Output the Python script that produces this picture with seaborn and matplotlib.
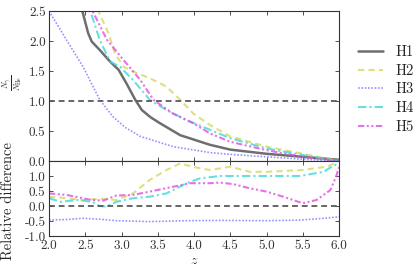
import numpy as np
import pandas as pd
import matplotlib
matplotlib.use('Agg')
import matplotlib.pyplot as plt
import seaborn as sns

# ratio N_gamma / N_He
z_h1 = [2.40, 2.46, 2.54, 2.59, 2.70, 2.84, 2.96, 3.07, 3.19, 3.28, 3.40, 3.53, 3.81, 4.22, 4.50, 5.00, 5.50, 6.00]
r_h1 = [2.75, 2.50, 2.13, 1.99, 1.85, 1.66, 1.52, 1.29, 1.02, 0.85, 0.73, 0.63, 0.43, 0.27, 0.19, 0.12, 0.07, 0.02]
z_h2 = [2.60, 2.68, 2.82, 2.91, 3.03, 3.16, 3.39, 3.62, 3.81, 3.99, 4.22, 4.50, 5.00, 5.50, 6.00]
r_h2 = [2.75, 2.50, 2.13, 1.79, 1.57, 1.49, 1.38, 1.24, 1.02, 0.79, 0.60, 0.41, 0.24, 0.12, 0.00]
z_h3 = [2.00, 2.24, 2.47, 2.70, 2.88, 3.05, 3.26, 3.71, 4.22, 4.50, 5.00, 5.50, 6.00]
r_h3 = [2.50, 2.02, 1.57, 1.02, 0.74, 0.56, 0.41, 0.24, 0.14, 0.11, 0.07, 0.03, 0.00]
z_h4 = [2.50, 2.57, 2.70, 2.84, 2.98, 3.16, 3.39, 3.62, 3.90, 4.22, 4.50, 5.00, 5.50, 6.00]
r_h4 = [2.75, 2.50, 2.02, 1.66, 1.57, 1.35, 1.02, 0.85, 0.68, 0.52, 0.38, 0.21, 0.10, 0.00]
z_h5 = [2.52, 2.60, 2.80, 3.03, 3.26, 3.44, 3.71, 3.99, 4.22, 4.50, 5.00, 5.50, 6.00]
r_h5 = [2.75, 2.50, 2.02, 1.68, 1.35, 1.02, 0.79, 0.63, 0.46, 0.32, 0.18, 0.07, 0.00]

# relative difference w.r.t. H1, bottom panel
zd_h2 = [2.00, 2.24, 2.47, 2.70, 2.93, 3.16, 3.39, 3.62, 3.81, 3.99, 4.22, 4.50, 4.77, 5.00, 5.50, 5.83, 5.98]
d_h2 = [0.31, 0.26, 0.20, 0.24, 0.20, 0.42, 0.87, 1.20, 1.42, 1.30, 1.20, 1.31, 1.14, 1.14, 1.20, 1.31, 1.47]
zd_h3 = [2.00, 2.24, 2.47, 2.70, 2.93, 3.39, 3.90, 4.40, 5.00, 5.46, 5.79, 6.00]
d_h3 = [-0.47, -0.45, -0.41, -0.44, -0.49, -0.52, -0.49, -0.48, -0.49, -0.47, -0.41, -0.36]
zd_h4 = [2.00, 2.16, 2.39, 2.59, 2.70, 2.79, 2.93, 3.16, 3.39, 3.62, 3.90, 4.08, 4.36, 4.77, 5.46, 5.79, 5.93, 6.00]
d_h4 = [0.26, 0.14, 0.20, 0.14, 0.00, -0.02, 0.14, 0.26, 0.31, 0.42, 0.76, 0.92, 1.00, 1.00, 1.00, 1.14, 1.36, 1.40]
zd_h5 = [2.00, 2.24, 2.59, 2.75, 2.93, 3.16, 3.39, 3.71, 3.94, 4.22, 4.36, 4.54, 4.77, 5.00, 5.23, 5.50, 5.69, 5.88, 5.96, 6.00]
d_h5 = [0.42, 0.37, 0.20, 0.18, 0.35, 0.37, 0.48, 0.64, 0.76, 0.76, 0.78, 0.73, 0.59, 0.48, 0.31, 0.09, 0.20, 0.53, 0.98, 1.30]

labels = ['H1', 'H2', 'H3', 'H4', 'H5']
colors = ['#555555', '#d8d860', '#7a7aff', '#40d8d8', '#e050e0']
styles = ['-', (0, (3, 2)), (0, (1, 1)), (0, (4, 1.5, 1, 1.5)), (0, (3, 1.2, 1, 1.2, 1, 1.2))]
alphas = [0.85, 0.8, 0.8, 0.8, 0.8]
widths = [1.8, 1.5, 1.2, 1.5, 1.5]

sns.set_style('ticks')
plt.rcParams['font.family'] = 'serif'
plt.rcParams['font.serif'] = ['cmr10', 'DejaVu Serif']
plt.rcParams['mathtext.fontset'] = 'cm'
plt.rcParams['axes.formatter.use_mathtext'] = True
plt.rcParams['axes.unicode_minus'] = True

fig = plt.figure(figsize=(4.16, 2.71), dpi=100)
ax1 = fig.add_axes([49 / 416, 1 - 161 / 271, 290 / 416, 150 / 271])
ax2 = fig.add_axes([49 / 416, 1 - 236 / 271, 290 / 416, 75 / 271], sharex=ax1)

top = [(z_h1, r_h1), (z_h2, r_h2), (z_h3, r_h3), (z_h4, r_h4), (z_h5, r_h5)]
for (zz, rr), lab, c, ls, a, lw in zip(top, labels, colors, styles, alphas, widths):
    sns.lineplot(x=zz, y=rr, ax=ax1, color=c, linestyle=ls, alpha=a, lw=lw, label=lab)
ax1.axhline(1.0, color='#555555', ls=(0, (3, 2)), lw=1.4, alpha=0.9)

bottom = [(zd_h2, d_h2), (zd_h3, d_h3), (zd_h4, d_h4), (zd_h5, d_h5)]
for (zz, dd), c, ls, a, lw in zip(bottom, colors[1:], styles[1:], alphas[1:], widths[1:]):
    sns.lineplot(x=zz, y=dd, ax=ax2, color=c, linestyle=ls, alpha=a, lw=lw)
ax2.axhline(0.0, color='#555555', ls=(0, (3, 2)), lw=1.4, alpha=0.9)

ax1.set_xlim(2.0, 6.0)
ax1.set_ylim(0.0, 2.5)
ax2.set_ylim(-1.0, 1.5)
ax1.set_yticks([0.0, 0.5, 1.0, 1.5, 2.0, 2.5])
ax2.set_yticks([-1.0, -0.5, 0.0, 0.5, 1.0])
ax2.set_xticks([2.0, 2.5, 3.0, 3.5, 4.0, 4.5, 5.0, 5.5, 6.0])
ax1.tick_params(labelbottom=False)

for ax in (ax1, ax2):
    ax.tick_params(direction='in', top=True, right=True, labelsize=9.5,
                   colors='#333333', length=3, width=0.6, pad=2.5)
    for s in ax.spines.values():
        s.set_color('#333333')
        s.set_linewidth(0.8)
    ax.yaxis.set_major_formatter(matplotlib.ticker.FormatStrFormatter('%.1f'))
ax2.xaxis.set_major_formatter(matplotlib.ticker.FormatStrFormatter('%.1f'))

ax1.set_ylabel(r'$\frac{N_\gamma}{N_{\rm He}}$', fontsize=8.5)
ax1.yaxis.set_label_coords(-0.085, 0.52)
ax2.set_ylabel('Relative difference', fontsize=10.5)
ax2.yaxis.set_label_coords(-0.117, 0.47)
ax2.set_xlabel(r'$z$', fontsize=10)
ax2.xaxis.set_label_coords(0.5, -0.25)

ax1.legend(loc='upper left', bbox_to_anchor=(1.02, 0.86), frameon=False,
           fontsize=10.5, handlelength=1.7, handletextpad=0.9, labelspacing=0.35)

fig.savefig('out.png', dpi=100)
